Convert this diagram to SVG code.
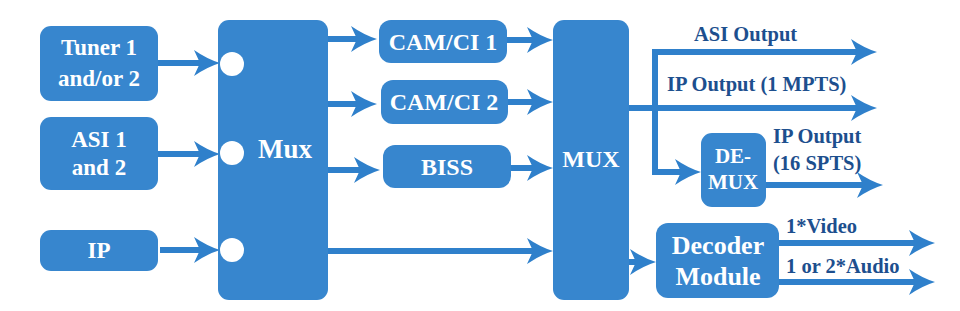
<svg xmlns="http://www.w3.org/2000/svg" width="960" height="311" viewBox="0 0 960 311">
<style>
.box{fill:#3786ce}
.bt{font-family:"Liberation Serif","Times New Roman",serif;font-weight:bold;fill:#ffffff;text-anchor:middle}
.lb{font-family:"Liberation Serif","Times New Roman",serif;font-weight:bold;fill:#1d4f8e;font-size:20.5px}
.ln{fill:none;stroke:#2f80cb;stroke-width:6}
.port{fill:#ffffff}
</style>
<defs>
<marker id="ah" markerUnits="userSpaceOnUse" viewBox="0 0 26 26" refX="6" refY="13" markerWidth="26" markerHeight="26" orient="auto">
<path d="M0,0 Q13,9 26,13 Q13,17 0,26 L6,13 Z" fill="#2f80cb"/>
</marker>
</defs>
<rect width="960" height="311" fill="#ffffff"/>
<g id="connectors">
<path class="ln" d="M158,63 H200" marker-end="url(#ah)"/>
<path class="ln" d="M158,154 H200" marker-end="url(#ah)"/>
<path class="ln" d="M160,250 H200" marker-end="url(#ah)"/>
<path class="ln" d="M328,39 H357" marker-end="url(#ah)"/>
<path class="ln" d="M328,104 H357" marker-end="url(#ah)"/>
<path class="ln" d="M328,170 H360" marker-end="url(#ah)"/>
<path class="ln" d="M507,40 H533" marker-end="url(#ah)"/>
<path class="ln" d="M508,102 H533" marker-end="url(#ah)"/>
<path class="ln" d="M511,168 H533" marker-end="url(#ah)"/>
<path class="ln" d="M328,251 H533" marker-end="url(#ah)"/>
<path class="ln" d="M629,262 H636" marker-end="url(#ah)"/>
<path class="ln" d="M629,108 H857" marker-end="url(#ah)"/>
<path class="ln" d="M655,172 V52 H857" marker-end="url(#ah)"/>
<path class="ln" d="M652,172 H681" marker-end="url(#ah)"/>
<path class="ln" d="M766,185 H863" marker-end="url(#ah)"/>
<path class="ln" d="M779,243 H915" marker-end="url(#ah)"/>
<path class="ln" d="M779,282 H915" marker-end="url(#ah)"/>
</g>
<g id="tuner"><rect class="box" x="40" y="26" width="118" height="75" rx="11"/>
<text class="bt" x="99" y="55" font-size="23">Tuner 1</text><text class="bt" x="99" y="86" font-size="23">and/or 2</text></g>
<g id="asi"><rect class="box" x="40" y="117" width="118" height="73" rx="11"/>
<text class="bt" x="99" y="147" font-size="23">ASI 1</text><text class="bt" x="99" y="175" font-size="23">and 2</text></g>
<g id="ip"><rect class="box" x="40" y="230" width="118" height="41" rx="11"/>
<text class="bt" x="99" y="258" font-size="23">IP</text></g>
<g id="mux1"><rect class="box" x="218" y="20" width="110" height="280" rx="11"/>
<circle class="port" cx="232" cy="64" r="12"/><circle class="port" cx="232" cy="153" r="12"/><circle class="port" cx="232" cy="250" r="12"/>
<text class="bt" x="285" y="158" font-size="27">Mux</text></g>
<g id="cam1"><rect class="box" x="379" y="20" width="128" height="43" rx="12"/>
<text class="bt" x="443" y="50" font-size="24">CAM/CI 1</text></g>
<g id="cam2"><rect class="box" x="381" y="80" width="127" height="44" rx="12"/>
<text class="bt" x="444" y="110" font-size="24">CAM/CI 2</text></g>
<g id="biss"><rect class="box" x="383" y="145" width="128" height="43" rx="12"/>
<text class="bt" x="447" y="175" font-size="24">BISS</text></g>
<g id="mux2"><rect class="box" x="553" y="20" width="76" height="280" rx="11"/>
<text class="bt" x="591" y="167" font-size="24">MUX</text></g>
<g id="demux"><rect class="box" x="701" y="133" width="65" height="74" rx="11"/>
<text class="bt" x="733" y="163" font-size="21">DE-</text><text class="bt" x="733" y="189" font-size="21">MUX</text></g>
<g id="decoder"><rect class="box" x="656" y="223" width="123" height="75" rx="12"/>
<text class="bt" x="718" y="254" font-size="26">Decoder</text><text class="bt" x="718" y="285" font-size="26">Module</text></g>
<g id="labels">
<text class="lb" x="694" y="41">ASI Output</text>
<text class="lb" x="667" y="91">IP Output (1 MPTS)</text>
<text class="lb" x="773" y="143">IP Output</text>
<text class="lb" x="773" y="170">(16 SPTS)</text>
<text class="lb" x="786" y="233">1*Video</text>
<text class="lb" x="786" y="273">1 or 2*Audio</text>
</g>
</svg>
